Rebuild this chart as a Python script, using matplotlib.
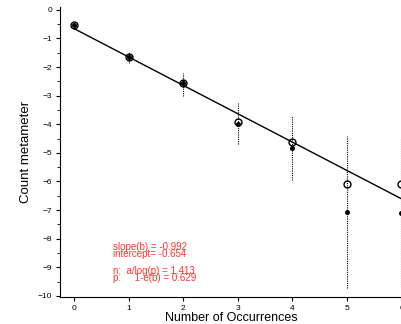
import numpy as np
import matplotlib.pyplot as plt

plt.rcParams['font.family'] = ['Liberation Sans', 'DejaVu Sans']

# counts k and their metameter values
k = np.array([0, 1, 2, 3, 4, 5, 6])
metameter = np.array([-0.52, -1.64, -2.55, -3.92, -4.63, -6.08, -6.10])
centered = np.array([-0.52, -1.64, -2.55, -3.99, -4.83, -7.06, -7.10])
ci_low = np.array([-0.55, -1.85, -3.00, -4.69, -5.95, -9.72, -9.70])
ci_high = np.array([-0.49, -1.47, -2.20, -3.25, -3.70, -4.40, -4.48])

slope = -0.992
intercept = -0.654
n_est = 1.413
p_est = 0.629

fig = plt.figure(figsize=(4.02, 3.24), dpi=100)
ax = fig.add_axes([60/402, 27/324, 342/402, 290/324])

# dotted confidence intervals
ax.vlines(k, ci_low, ci_high, colors='black', linestyles=(0, (1, 1)), linewidth=0.8)

# fitted line
xfit = np.array([k[0], k[-1]])
ax.plot(xfit, intercept + slope * xfit, color='black', linewidth=1.0)

# points
ax.plot(k, metameter, 'o', markerfacecolor='none', markeredgecolor='black', markersize=5, markeredgewidth=1.0)
ax.plot(k, centered, 'o', color='black', markersize=2.6)

# fit summary, tightly packed like the original
txt = dict(color='#ff3333', fontsize=7, va='top', linespacing=0.6)
ax.text(0.71, -8.12, f"slope(b) = {slope}\nintercept= {intercept}", **txt)
ax.text(0.71, -8.95, f"n:  a/log(p) = {n_est}\np:     1-e(b) = {p_est}", **txt)

ax.set_xlim(-0.256, 6.01)
ax.set_ylim(-10.04, 0.1)
ax.set_xticks(k)
ax.set_yticks(np.arange(-10, 1, 1))
ax.set_yticks(np.arange(-10, 0.5, 0.5), minor=True)
ax.spines['top'].set_visible(False)
ax.spines['right'].set_visible(False)
ax.tick_params(labelsize=6, length=3, width=0.8, pad=2.5)
ax.tick_params(which='minor', length=2, width=0.6)
ax.set_xlabel('Number of Occurrences', fontsize=9, labelpad=0.5)
ax.set_ylabel('Count metameter', fontsize=9.5, labelpad=4)

plt.savefig('out.png', dpi=100)
